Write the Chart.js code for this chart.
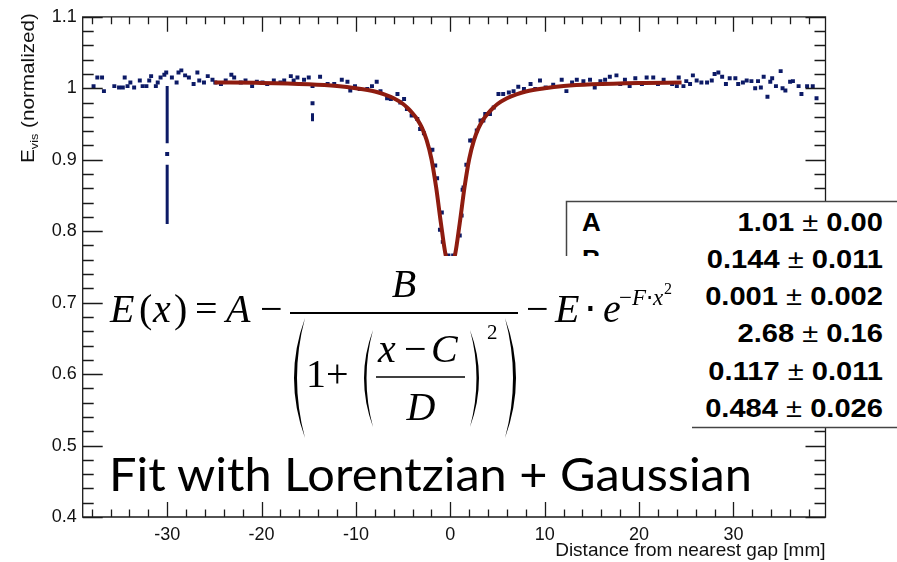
<!DOCTYPE html>
<html>
<head>
<meta charset="utf-8">
<script src="https://cdn.jsdelivr.net/npm/chart.js@4/dist/chart.umd.min.js"></script>
<style>
  body { margin: 0; background: #fff; }
  #wrap { position: relative; width: 897px; height: 562px; }
  #c { position: absolute; left: 0; top: 0; }
  #overlay { position: absolute; left: 0; top: 0; }
</style>
</head>
<body>
<div id="wrap">
  <canvas id="c" width="897" height="562"></canvas>
  <svg id="overlay" width="897" height="562"></svg>
</div>
<script>
// axis ticks
const xTicks = [-30, -20, -10, 0, 10, 20, 30];
const yTicks = [0.4, 0.5, 0.6, 0.7, 0.8, 0.9, 1, 1.1];
const yTickLabels = ['0.4', '0.5', '0.6', '0.7', '0.8', '0.9', '1', '1.1'];

// measured points (distance in mm, normalized E_vis)
const pointX = [
  -37.8, -37.4, -36.9, -36.7, -35.6, -35.1, -34.7, -34.5, -34.2, -33.9, -33.5, -32.9, -32.6, -32.2,
  -31.9, -31.7, -31.2, -31.0, -30.7, -30.3, -30.1, -30.0, -29.5, -29.0, -28.8, -28.5, -28.1, -27.7,
  -27.2, -26.8, -26.6, -26.1, -25.7, -25.2, -24.9, -24.3, -23.8, -23.2, -22.9, -22.2, -21.7, -21.0,
  -20.5, -19.9, -19.4, -18.7, -18.0, -17.6, -16.9, -16.6, -16.2, -15.9, -15.5, -15.0, -14.6, -14.6,
  -13.8, -13.0, -12.3, -11.5, -10.9, -10.6, -10.1, -9.6, -8.8, -8.3, -7.8, -7.4, -6.7, -6.3, -5.6,
  -5.3, -4.9, -4.6, -4.1, -3.5, -3.2, -2.8, -2.1, -1.9, -1.6, -1.4, -1.1, -0.9, -0.8, -0.2, 0.3, 1.0,
  1.2, 1.3, 1.4, 1.7, 2.1, 2.3, 2.8, 3.2, 3.5, 3.7, 4.2, 4.6, 5.1, 5.6, 6.2, 6.7, 7.2, 7.8, 8.5,
  9.0, 9.5, 10.1, 10.9, 11.8, 12.3, 12.9, 13.4, 14.1, 14.8, 15.3, 15.9, 16.4, 16.9, 17.6, 18.0,
  18.5, 19.0, 19.6, 20.3, 20.8, 21.5, 22.0, 22.6, 23.5, 24.0, 24.2, 24.7, 25.0, 25.4, 25.7, 26.1,
  26.6, 27.2, 27.7, 28.0, 28.4, 28.8, 29.2, 29.6, 30.2, 30.5, 31.0, 31.4, 31.9, 32.3, 32.6, 32.9,
  33.2, 33.6, 33.9, 34.1, 34.5, 35.0, 35.2, 35.5, 36.0, 36.3, 36.9, 37.2, 37.8, 38.4, 38.8
];
const pointY = [
  1.003, 1.015, 1.015, 0.996, 1.003, 1.001, 1.001, 1.015, 1.003, 1.008, 1.001, 1.011, 1.003, 1.003,
  1.011, 1.017, 1.003, 1.008, 1.015, 1.019, 1.022, 0.908, 1.015, 1.008, 1.022, 1.025, 1.018, 1.015,
  1.006, 1.022, 1.011, 1.008, 1.017, 1.012, 1.008, 1.006, 1.011, 1.019, 1.015, 1.008, 1.011, 1.003,
  1.009, 1.008, 1.006, 1.011, 1.008, 1.011, 1.017, 1.011, 1.015, 1.006, 1.012, 1.015, 1.003, 0.979,
  1.016, 1.006, 1.006, 1.012, 1.009, 0.997, 1.003, 0.999, 0.999, 1.003, 1.009, 0.996, 0.986, 0.985, 0.992,
  0.980, 0.985, 0.971, 0.962, 0.957, 0.943, 0.937, 0.913, 0.914, 0.892, 0.874, 0.802, 0.826, 0.785, 0.766, 0.766, 0.794,
  0.822, 0.858, 0.861, 0.893, 0.927, 0.927, 0.941, 0.955, 0.955, 0.964, 0.964, 0.973, 0.992, 0.992, 0.994, 0.996, 1.002, 0.999, 1.006,
  0.999, 1.011, 1.001, 1.005, 1.012, 0.996, 1.008, 1.012, 1.010, 1.012, 1.001, 1.010, 1.012, 1.016, 1.018, 1.006,
  1.012, 1.003, 1.014, 1.006, 1.015, 1.015, 1.006, 1.012, 1.006, 1.003, 1.015, 1.003, 1.010, 1.006, 1.018, 1.011,
  1.008, 1.008, 1.011, 1.020, 1.022, 1.016, 1.006, 1.014, 1.014, 1.006, 1.008, 1.011, 1.010, 1.000, 1.010, 1.001,
  1.016, 0.988, 1.009, 1.014, 1.003, 1.024, 1.000, 0.997, 1.009, 1.010, 1.003, 0.992, 1.003, 1.003, 0.986
];

// dense vertical runs of points (null = break)
const streakX = [-30, -30, -30, -30, -30, -14.6, -14.6, -14.6];
const streakY = [1.003, 0.923, null, 0.893, 0.810, null, 0.965, 0.954];

// fitted curve
const fitX = [-25, -20, -15, -12, -10, -8, -7, -6, -5, -4.5, -4, -3.5, -3, -2.5, -2, -1.5, -1, -0.5, 0,
  0.5, 1, 1.5, 2, 2.5, 3, 3.5, 4, 4.5, 5, 6, 7, 8, 10, 12, 15, 20, 24.5];
const fitY = [1.008, 1.0075, 1.0055, 1.003, 1.000, 0.9955, 0.9915, 0.986, 0.978, 0.972, 0.965, 0.9565,
  0.9445, 0.927, 0.901, 0.861, 0.8115, 0.767, 0.749, 0.767, 0.8115, 0.861, 0.901, 0.927, 0.9445, 0.9565,
  0.965, 0.972, 0.978, 0.986, 0.9915, 0.9955, 1.000, 1.003, 1.0055, 1.0075, 1.008];

// fit parameters
const paramNames = ['A', 'B', 'C', 'D', 'E', 'F'];
const paramValues = ['1.01', '0.144', '0.001', '2.68', '0.117', '0.484'];
const paramErrors = ['0.00', '0.011', '0.002', '0.16', '0.011', '0.026'];

const navy = '#0c1a66';
const fitRed = '#8e1c10';
const axisColor = '#1a1a1a';

Chart.defaults.font.family = 'Liberation Sans, Arial, sans-serif';
Chart.defaults.color = '#111';

// ROOT style frame with inward ticks on all four sides
const frameTicks = {
  id: 'frameTicks',
  afterDraw(chart) {
    const { ctx, chartArea: a, scales } = chart;
    const xs = scales.x, ys = scales.y;
    ctx.save();
    ctx.strokeStyle = axisColor;
    ctx.lineWidth = 1.3;
    ctx.beginPath();
    ctx.rect(a.left, a.top, a.right - a.left, a.bottom - a.top);
    for (let v = -38; v <= 39; v += 2) {
      const px = Math.round(xs.getPixelForValue(v)) + 0.5;
      const len = v % 10 === 0 ? 15 : 7.5;
      ctx.moveTo(px, a.bottom); ctx.lineTo(px, a.bottom - len);
      ctx.moveTo(px, a.top); ctx.lineTo(px, a.top + len);
    }
    for (let i = 0; i <= 35; i++) {
      const v = 0.4 + i * 0.02;
      const py = Math.round(ys.getPixelForValue(v)) + 0.5;
      const len = i % 5 === 0 ? 20 : 11;
      ctx.moveTo(a.left, py); ctx.lineTo(a.left + len, py);
      ctx.moveTo(a.right, py); ctx.lineTo(a.right - len, py);
    }
    ctx.stroke();
    ctx.restore();
  }
};

new Chart(document.getElementById('c').getContext('2d'), {
  type: 'scatter',
  data: {
    datasets: [
      {
        label: 'Fit',
        type: 'line',
        data: fitX.map((x, i) => ({ x: x, y: fitY[i] })),
        borderColor: fitRed,
        borderWidth: 4,
        pointRadius: 0,
        cubicInterpolationMode: 'monotone',
        fill: false,
        order: 0
      },
      {
        label: 'Data',
        data: pointX.map((x, i) => ({ x: x, y: pointY[i] })),
        backgroundColor: navy,
        borderWidth: 0,
        pointStyle: 'rect',
        pointRadius: 2.8,
        order: 1
      },
      {
        label: 'Runs',
        type: 'line',
        data: streakX.map((x, i) => ({ x: x, y: streakY[i] })),
        borderColor: navy,
        borderWidth: 3,
        pointRadius: 0,
        spanGaps: false,
        fill: false,
        order: 2
      }
    ]
  },
  options: {
    responsive: false,
    animation: false,
    events: [],
    layout: { padding: { left: 0, top: 12, right: 71.5, bottom: 0 } },
    plugins: {
      legend: { display: false },
      tooltip: { enabled: false }
    },
    scales: {
      x: {
        type: 'linear',
        min: -38.95,
        max: 39.75,
        grid: { display: false, drawTicks: false },
        border: { display: false },
        afterBuildTicks: (s) => { s.ticks = xTicks.map(v => ({ value: v })); },
        afterFit: (s) => { s.height = 45; },
        ticks: { font: { size: 18 }, color: '#111', padding: 7, maxRotation: 0 },
        title: {
          display: true,
          text: 'Distance from nearest gap [mm]',
          align: 'end',
          font: { size: 19 },
          color: '#111',
          padding: { top: 0, bottom: 0 }
        }
      },
      y: {
        type: 'linear',
        min: 0.4,
        max: 1.1,
        grid: { display: false, drawTicks: false },
        border: { display: false },
        afterBuildTicks: (s) => { s.ticks = yTicks.map(v => ({ value: v })); },
        afterFit: (s) => { s.width = 82.7; },
        ticks: {
          font: { size: 18 },
          color: '#111',
          padding: 6,
          callback: (v, i) => yTickLabels[i]
        }
      }
    }
  },
  plugins: [frameTicks]
});

// overlay: stats box, formula, caption and y title
const NS = 'http://www.w3.org/2000/svg';
const svg = document.getElementById('overlay');
function el(tag, attrs, text) {
  const e = document.createElementNS(NS, tag);
  for (const k in attrs) e.setAttribute(k, attrs[k]);
  if (text !== undefined) e.textContent = text;
  svg.appendChild(e);
  return e;
}
function tspan(parent, attrs, text) {
  const t = document.createElementNS(NS, 'tspan');
  for (const k in attrs) t.setAttribute(k, attrs[k]);
  t.textContent = text;
  parent.appendChild(t);
  return t;
}

// y axis title
const yt = el('text', {
  transform: 'translate(34,13) rotate(-90)', 'text-anchor': 'end',
  'font-family': 'Liberation Sans', 'font-size': 18, fill: '#111',
  textLength: 150, lengthAdjust: 'spacingAndGlyphs'
});
tspan(yt, {}, 'E');
tspan(yt, { 'font-size': 11, dy: 4 }, 'vis');
tspan(yt, { dy: -4 }, ' (normalized)');

// stats box
el('rect', { x: 566.5, y: 201.5, width: 420, height: 226, fill: '#fff', stroke: '#444', 'stroke-width': 1.5 });
['A', 'B'].forEach((n, i) => {
  el('text', { x: 582, y: 230.5 + i * 37.3, 'font-family': 'Liberation Sans', 'font-weight': 'bold', 'font-size': 26, fill: '#000' }, paramNames[i]);
});
paramValues.forEach((v, i) => {
  const t = el('text', {
    transform: `translate(883,${230.5 + i * 37.3}) scale(1.12,1)`, 'text-anchor': 'end',
    'font-family': 'Liberation Sans', 'font-weight': 'bold', 'font-size': 26, fill: '#000'
  });
  tspan(t, {}, v);
  tspan(t, { 'font-weight': 'normal' }, ' \u00b1 ');
  tspan(t, {}, paramErrors[i]);
});

// formula panel
el('rect', { x: 104, y: 256, width: 588, height: 186, fill: '#fff' });
const serif = 'Liberation Serif, Times New Roman, serif';
function ftxt(x, y, s, size, italic, anchor) {
  return el('text', {
    x: x, y: y, 'font-family': serif, 'font-size': size, fill: '#000',
    'font-style': italic ? 'italic' : 'normal', 'text-anchor': anchor || 'start'
  }, s);
}
ftxt(110, 322, 'E', 40, true);
ftxt(139, 322, '(', 40, false);
ftxt(153, 322, 'x', 40, true);
ftxt(174, 322, ')', 40, false);
ftxt(195, 322, '=', 40, false);
ftxt(226, 322, 'A', 40, true);
ftxt(260, 322, '\u2212', 40, false);
el('line', { x1: 290, y1: 313, x2: 518, y2: 313, stroke: '#000', 'stroke-width': 2 });
ftxt(404, 297, 'B', 40, true, 'middle');
el('path', { d: 'M305 318 Q283 378 305 438 Q289 378 305 318 Z', fill: '#000' });
ftxt(306, 387, '1+', 40, false);
el('path', { d: 'M373 330 Q355 378 373 427 Q360 378 373 330 Z', fill: '#000' });
ftxt(378, 362, 'x', 40, true);
ftxt(404, 362, '\u2212', 40, false);
ftxt(431, 362, 'C', 40, true);
el('line', { x1: 376, y1: 377, x2: 465, y2: 377, stroke: '#000', 'stroke-width': 1.6 });
ftxt(421, 420, 'D', 40, true, 'middle');
el('path', { d: 'M470 330 Q488 378 470 427 Q483 378 470 330 Z', fill: '#000' });
ftxt(487, 339, '2', 21, false);
el('path', { d: 'M505 318 Q527 378 505 438 Q521 378 505 318 Z', fill: '#000' });
ftxt(526, 322, '\u2212', 40, false);
ftxt(555, 322, 'E', 40, true);
ftxt(584, 322, '\u22c5', 40, false);
ftxt(603, 322, 'e', 40, true);
const sup = el('text', { x: 619, y: 305, 'font-family': serif, 'font-size': 23, fill: '#000' });
tspan(sup, {}, '\u2212');
tspan(sup, { 'font-style': 'italic' }, 'F');
tspan(sup, {}, '\u22c5');
tspan(sup, { 'font-style': 'italic' }, 'x');
ftxt(664, 294, '2', 16, false);

// caption
el('text', {
  x: 109, y: 491, 'font-family': 'Lato, Open Sans, sans-serif', 'font-size': 47, fill: '#000',
  textLength: 643, lengthAdjust: 'spacingAndGlyphs'
}, 'Fit with Lorentzian + Gaussian');
</script>
</body>
</html>
